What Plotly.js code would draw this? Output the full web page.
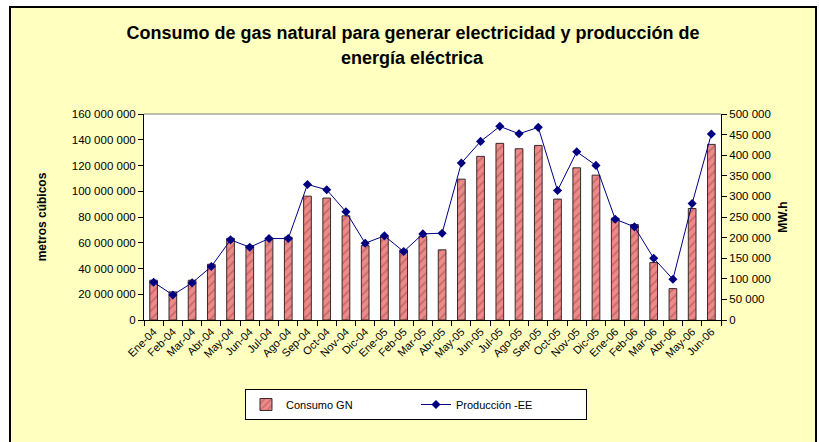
<!DOCTYPE html>
<html>
<head>
<meta charset="utf-8">
<script src="https://cdn.plot.ly/plotly-3.0.1.min.js"></script>
<style>
  html, body { margin: 0; padding: 0; background: #ffffff; width: 819px; height: 442px; overflow: hidden; }
  #frame { position: absolute; left: 9px; top: 6px; width: 804px; height: 436px;
           border-left: 2px solid #000; border-top: 2px solid #000; border-right: 2px solid #000;
           background: #FFFFC0; }
  #chart { width: 804px; height: 434px; }
</style>
</head>
<body>
<div id="frame"><div id="chart"></div></div>
<script>
// ---- Data ----
const meses = ['Ene-04','Feb-04','Mar-04','Abr-04','May-04','Jun-04','Jul-04','Ago-04','Sep-04','Oct-04','Nov-04','Dic-04',
               'Ene-05','Feb-05','Mar-05','Abr-05','May-05','Jun-05','Jul-05','Ago-05','Sep-05','Oct-05','Nov-05','Dic-05',
               'Ene-06','Feb-06','Mar-06','Abr-06','May-06','Jun-06'];
const consumoGN = [30900000, 21800000, 30900000, 43300000, 63500000, 57600000, 63500000, 64300000, 96200000, 94700000, 80900000, 57800000,
                   65100000, 54500000, 65100000, 54500000, 109400000, 127100000, 137200000, 133000000, 135600000, 93900000, 118200000, 112500000,
                   79100000, 74200000, 44600000, 24400000, 86600000, 136400000];
const produccionEE = [91600, 60800, 90000, 129700, 194500, 176700, 197700, 197700, 329000, 316000, 262600, 186400,
                      204200, 166100, 209000, 210700, 380900, 433500, 470000, 452000, 467600, 314400, 408400, 375200,
                      244700, 226100, 149900, 98900, 282800, 451400];
const leftTickVals = [0, 20000000, 40000000, 60000000, 80000000, 100000000, 120000000, 140000000, 160000000];
const leftTickText = ['0', '20 000 000', '40 000 000', '60 000 000', '80 000 000', '100 000 000', '120 000 000', '140 000 000', '160 000 000'];
const rightTickVals = [0, 50000, 100000, 150000, 200000, 250000, 300000, 350000, 400000, 450000, 500000];
const rightTickText = ['0', '50 000', '100 000', '150 000', '200 000', '250 000', '300 000', '350 000', '400 000', '450 000', '500 000'];
const tituloLinea1 = 'Consumo de gas natural para generar electricidad y producción de';
const tituloLinea2 = 'energía eléctrica';

const FONT = 'Liberation Sans, Arial, sans-serif';

const traces = [
  {
    type: 'bar', name: 'Consumo GN', x: meses, y: consumoGN, yaxis: 'y',
    marker: { color: '#EC8A8A', line: { color: '#3A2A2A', width: 1 },
              pattern: { shape: '/', fillmode: 'overlay', fgcolor: '#A03A3A', fgopacity: 0.45, size: 6, solidity: 0.3 } },
    width: 0.4
  },
  {
    type: 'scatter', mode: 'lines+markers', name: 'Producción -EE', x: meses, y: produccionEE, yaxis: 'y2',
    line: { color: '#000080', width: 1 },
    marker: { symbol: 'diamond', size: 7, color: '#000080' }
  }
];

const layout = {
  width: 804, height: 434,
  margin: { l: 133, r: 94, t: 106, b: 122 },
  paper_bgcolor: 'rgba(0,0,0,0)',
  plot_bgcolor: '#FFFFFF',
  font: { family: FONT, size: 11, color: '#000' },
  title: {
    text: '<b>' + tituloLinea1 + '</b>',
    font: { family: FONT, size: 18, color: '#000' },
    x: 0.5, xanchor: 'center', xref: 'container',
    y: 0.942, yanchor: 'middle', yref: 'container'
  },
  annotations: [
    { text: '<b>' + tituloLinea2 + '</b>', xref: 'paper', yref: 'paper', x: 0.466, y: 1.272,
      xanchor: 'center', yanchor: 'middle', showarrow: false,
      font: { family: FONT, size: 18, color: '#000' } }
  ],
  showlegend: true,
  legend: {
    orientation: 'h', x: 0.175, xanchor: 'left', y: -0.335, yanchor: 'top',
    bgcolor: '#FFFFFF', bordercolor: '#000', borderwidth: 1,
    font: { family: FONT, size: 11, color: '#000' },
    entrywidth: 125, entrywidthmode: 'pixels'
  },
  xaxis: {
    type: 'category', range: [-0.5, 29.5], autorange: false,
    tickangle: -45, tickfont: { size: 11 },
    showline: true, linecolor: '#000', linewidth: 1,
    ticks: 'outside', ticklen: 5, tickcolor: '#000', tickson: 'boundaries',
    showgrid: false, zeroline: false
  },
  yaxis: {
    range: [0, 160000000], tickvals: leftTickVals, ticktext: leftTickText,
    tickfont: { size: 11.5 },
    showline: true, linecolor: '#000', linewidth: 1,
    ticks: 'outside', ticklen: 5, tickcolor: '#000',
    showgrid: false, zeroline: false,
    title: { text: '<b>metros cúbicos</b>', font: { size: 12 }, standoff: 22 }
  },
  yaxis2: {
    overlaying: 'y', side: 'right', range: [0, 500000],
    tickvals: rightTickVals, ticktext: rightTickText,
    tickfont: { size: 11.5 },
    showline: true, linecolor: '#000', linewidth: 1,
    ticks: 'outside', ticklen: 5, tickcolor: '#000',
    showgrid: false, zeroline: false,
    title: { text: '<b>MW.h</b>', font: { size: 12 }, standoff: 8 }
  },
  bargap: 0.6,
  shapes: [
    { type: 'line', xref: 'paper', yref: 'paper', x0: 0, x1: 1, y0: 1, y1: 1,
      line: { color: '#808080', width: 1 } }
  ]
};

Plotly.newPlot('chart', traces, layout, { displayModeBar: false, staticPlot: true });
</script>
</body>
</html>
